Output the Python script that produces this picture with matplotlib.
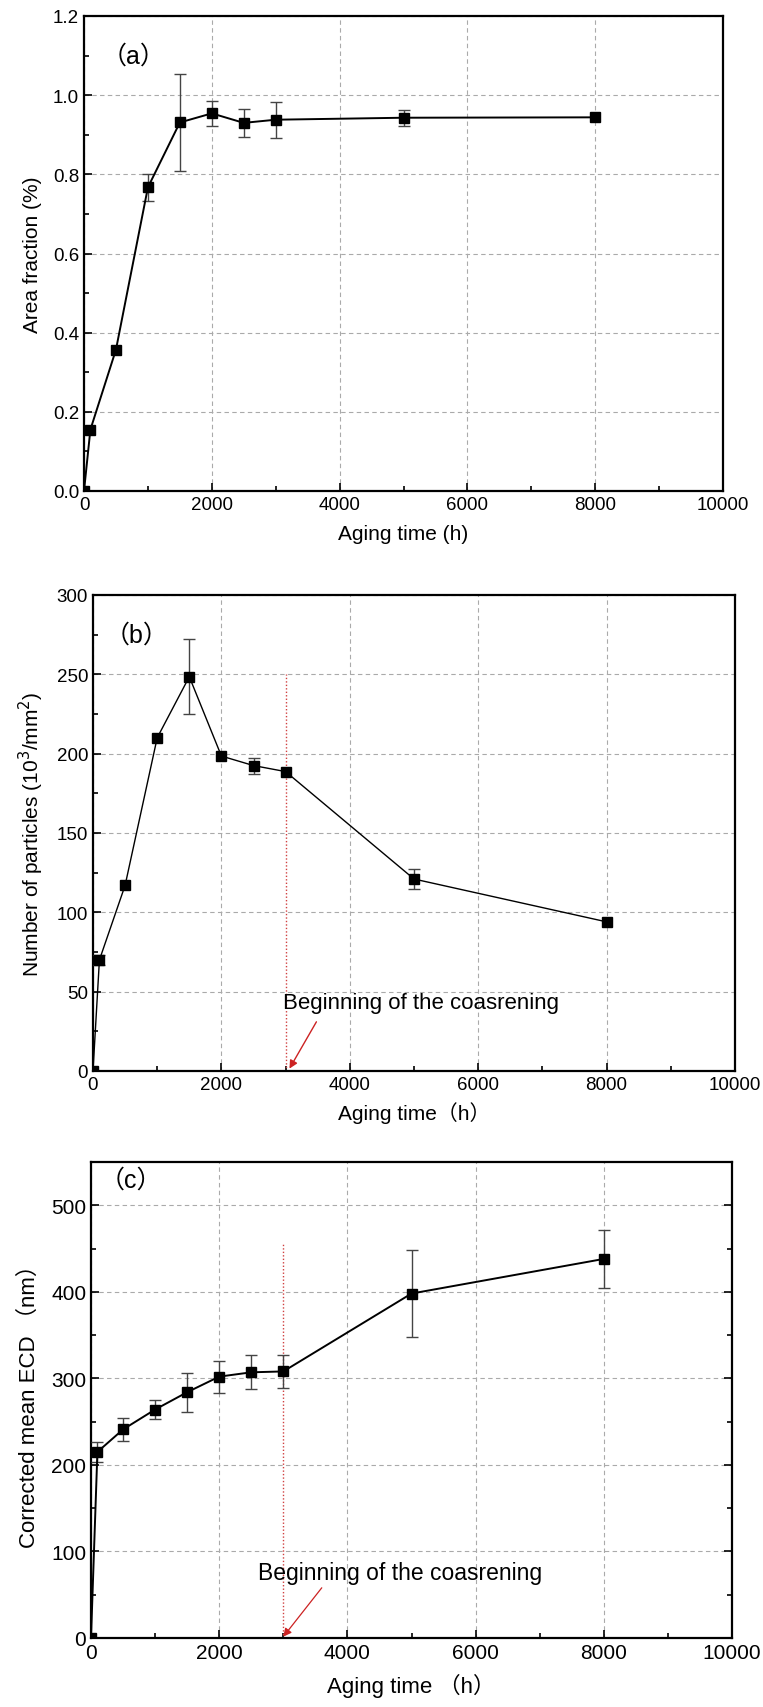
import matplotlib
matplotlib.use("Agg")
import matplotlib.pyplot as plt
from matplotlib.ticker import MultipleLocator, FormatStrFormatter

plt.rcParams['font.family'] = ['Liberation Sans', 'Noto Sans CJK SC', 'DejaVu Sans']

# ---------------- data ----------------
time_h = [0, 100, 500, 1000, 1500, 2000, 2500, 3000, 5000, 8000]

area_frac = [0.0, 0.155, 0.357, 0.767, 0.931, 0.954, 0.930, 0.938, 0.943, 0.944]
area_err = [0.0, 0.0, 0.0, 0.035, 0.122, 0.032, 0.035, 0.045, 0.02, 0.0]

n_particles = [0, 70, 117, 210, 248.5, 198.5, 192.5, 188.7, 121, 94]
n_err = [0, 3, 0, 0, 23.5, 0, 5, 0, 6, 0]

ecd = [0, 215, 241, 264, 284, 302, 307, 308, 398, 438]
ecd_err = [0, 12, 13, 11, 22.5, 18.5, 19.5, 19.5, 50, 34]

coarsening_start = 3000
annot_text = "Beginning of the coasrening"

W, H = 763, 1708
fig = plt.figure(figsize=(W / 100, H / 100), dpi=100)


def ax_rect(l, t, r, b):
    return [l / W, 1 - b / H, (r - l) / W, (b - t) / H]


def style(ax, ymax, ymaj, ymin_, right_ticks=False, lsize=13.5):
    ax.set_xlim(0, 10000)
    ax.set_ylim(0, ymax)
    ax.xaxis.set_major_locator(MultipleLocator(2000))
    ax.xaxis.set_minor_locator(MultipleLocator(1000))
    ax.yaxis.set_major_locator(MultipleLocator(ymaj))
    ax.yaxis.set_minor_locator(MultipleLocator(ymin_))
    ax.tick_params(which='both', direction='in', top=False, right=right_ticks,
                   labelsize=lsize, width=1.2)
    ax.tick_params(which='major', length=6)
    ax.tick_params(which='minor', length=3.5)
    ax.grid(True, which='major', linestyle=(0, (4, 3)), color='#aaaaaa', linewidth=0.8)
    for s in ax.spines.values():
        s.set_linewidth(1.6)
    ax.set_axisbelow(True)


def plot_series(ax, y, err, lw=1.2):
    ax.plot(time_h, y, color='black', lw=lw, marker='s', ms=7, mfc='black',
            mec='black', zorder=4, clip_on=True)
    ex, ey, ee = [], [], []
    for xi, yi, ei in zip(time_h, y, err):
        if ei > 0:
            ex.append(xi); ey.append(yi); ee.append(ei)
    ax.errorbar(ex, ey, yerr=ee, fmt='none', ecolor='#444444', elinewidth=1.0,
                capsize=4, capthick=1.0, zorder=3)


# ---------- panel (a) ----------
ax1 = fig.add_axes(ax_rect(84, 17, 723, 492))
style(ax1, 1.2, 0.2, 0.1)
plot_series(ax1, area_frac, area_err, lw=1.4)
ax1.yaxis.set_major_formatter(FormatStrFormatter('%.1f'))
ax1.set_xlabel('Aging time (h)', fontsize=15, labelpad=8)
ax1.set_ylabel('Area fraction (%)', fontsize=15, labelpad=8)
ax1.text(280, 1.10, '（a）', fontsize=18, va='center', ha='left')

# ---------- panel (b) ----------
ax2 = fig.add_axes(ax_rect(93, 596, 735, 1072))
style(ax2, 300, 50, 25)
plot_series(ax2, n_particles, n_err, lw=1.0)
ax2.plot([coarsening_start, coarsening_start], [0, 250], color='#d04040',
         lw=1.0, linestyle=(0, (1, 1.5)), zorder=2)
ax2.set_xlabel('Aging time（h）', fontsize=15, labelpad=6)
ax2.set_ylabel('Number of particles (10$^3$/mm$^2$)', fontsize=15, labelpad=8)
ax2.text(180, 275, '（b）', fontsize=18, va='center', ha='left')
ax2.text(2960, 43, annot_text, fontsize=16, va='center', ha='left')
ax2.annotate('', xy=(3060, 1.5), xytext=(3480, 31),
             arrowprops=dict(arrowstyle='-|>', color='#cc2222', lw=1.0,
                             mutation_scale=12, shrinkA=0, shrinkB=0))

# ---------- panel (c) ----------
ax3 = fig.add_axes(ax_rect(91, 1163, 732, 1639))
style(ax3, 550, 100, 50, right_ticks=True)
plot_series(ax3, ecd, ecd_err, lw=1.4)
ax3.plot([coarsening_start, coarsening_start], [0, 456], color='#d04040',
         lw=1.0, linestyle=(0, (1, 1.5)), zorder=2)
narrow = ['Liberation Sans Narrow', 'Liberation Sans', 'Noto Sans CJK SC']
ax3.set_xlabel('Aging time （h）', fontsize=16, labelpad=8, family=narrow)
ax3.set_ylabel('Corrected mean ECD （nm）', fontsize=16, labelpad=8, family=narrow)
for lab in ax3.get_xticklabels() + ax3.get_yticklabels():
    lab.set_family(narrow)
    lab.set_fontsize(15)
ax3.text(130, 530, '（c）', fontsize=18, va='center', ha='left')
ax3.text(2610, 76, annot_text, fontsize=16.5, va='center', ha='left', family=narrow)
ax3.annotate('', xy=(3000, 1.5), xytext=(3600, 58),
             arrowprops=dict(arrowstyle='-|>', color='#cc2222', lw=0.9,
                             mutation_scale=12, shrinkA=0, shrinkB=0))

fig.savefig('out.png', dpi=100, facecolor='white')
